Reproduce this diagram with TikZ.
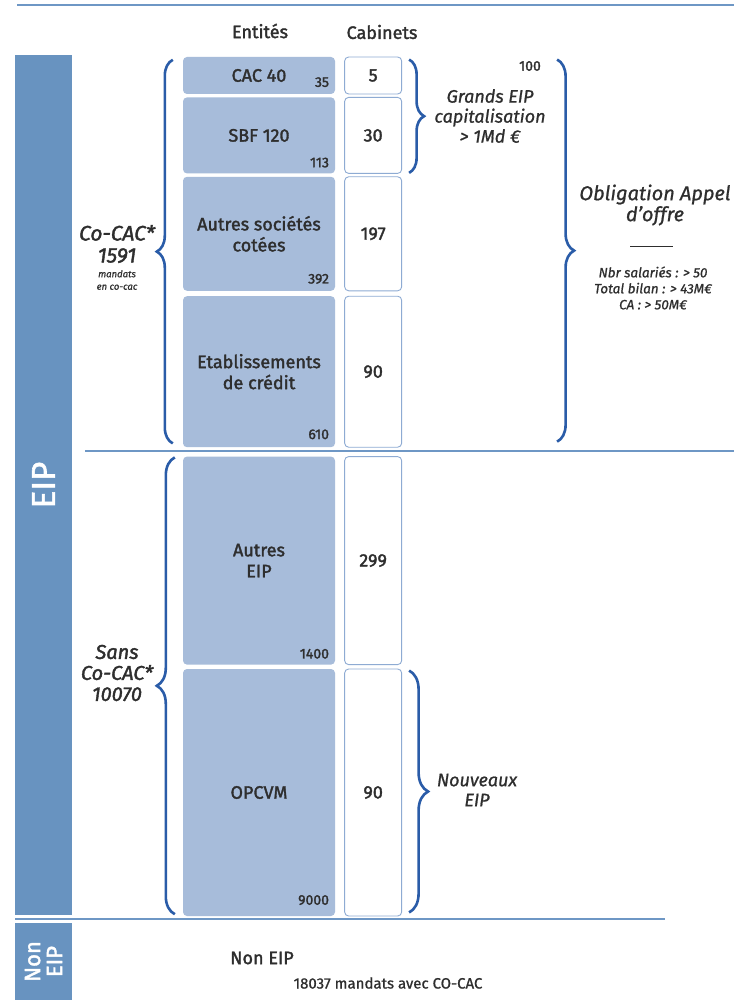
\documentclass[tikz,border=0pt]{standalone}
\usepackage{fontspec}
\setmainfont{Fira Sans}
\newfontfamily\semib{Fira Sans}[FakeBold=1.8]
\newfontfamily\semiit{Fira Sans}[FakeBold=0.9]
\usepackage{xcolor}
\usepackage{tikz}
\usetikzlibrary{positioning, calc, decorations.pathreplacing}

\definecolor{eipblue}{HTML}{6893C0}
\definecolor{entfill}{HTML}{A7BCDA}
\definecolor{cabline}{HTML}{8EABD3}
\definecolor{ruleblue}{HTML}{6E97C5}
\definecolor{braceblue}{HTML}{2A5CA8}
\definecolor{txtgray}{HTML}{2E2E2E}

\begin{document}
\begin{tikzpicture}[
        x=1pt, y=-1pt,
        font=\semib\fontsize{18}{21}\selectfont, text=txtgray,
        ent/.style={fill=entfill, rounded corners=4pt, minimum width=152pt, align=center, inner sep=0pt},
        cab/.style={draw=cabline, line width=0.9pt, fill=white, rounded corners=4pt, minimum width=57pt, inner sep=0pt},
        num/.style={font=\semib\fontsize{14}{16}\selectfont, inner sep=0pt, anchor=south east},
        note/.style={font=\semiit\itshape\fontsize{18}{20}\selectfont, align=center, inner sep=0pt},
        side/.style={fill=eipblue, draw=none},
        rule/.style={draw=ruleblue, line width=1.4pt},
        brc/.style={draw=braceblue, line width=2.6pt, decorate, decoration={brace, amplitude=#1}}
    ]
        \useasboundingbox[fill=white] (0,0) rectangle (734,1000);

        % side bars
        \node[side, minimum width=57pt, minimum height=860pt, inner sep=0pt] (eipbar) at (43.5,485) {};
        \node[side, minimum width=57pt, minimum height=77pt, inner sep=0pt] (noneipbar) at (43.5,961.5) {};
        \node[rotate=90, text=white, font=\semib\fontsize{33}{33}\selectfont] (eiplab) at (eipbar) {EIP};
        \node[rotate=90, text=white, font=\semib\fontsize{22}{22}\selectfont, align=center] (noneiplab) at (noneipbar) {Non\\EIP};

        % rules
        \draw[rule] (17,5) -- (734,5);
        \draw[rule] (85,451) -- (734,451);
        \draw[rule] (15,919) -- (665,919);

        % headings
        \node (hent) at (260,31) {Entités};
        \node (hcab) at (382,32) {Cabinets};

        % entity boxes
        \node[ent, minimum height=37pt] (cac) at (259,75.5) {CAC 40};
        \node[ent, minimum height=76pt, below=3pt of cac] (sbf) {SBF 120};
        \node[ent, minimum height=114pt, below=3pt of sbf] (autres) {Autres sociétés\\cotées};
        \node[ent, minimum height=151pt, below=5pt of autres] (etab) {Etablissements\\de crédit};
        \node[ent, minimum height=208pt, below=9pt of etab] (autreseip) {Autres\\EIP};
        \node[ent, minimum height=247pt, below=4pt of autreseip] (opcvm) {OPCVM};

        \node[num] (n35) at ($(cac.south east)+(-6,-7)$) {35};
        \node[num] (n113) at ($(sbf.south east)+(-6,-6)$) {113};
        \node[num] (n392) at ($(autres.south east)+(-6,-7)$) {392};
        \node[num] (n610) at ($(etab.south east)+(-6,-8)$) {610};
        \node[num] (n1400) at ($(autreseip.south east)+(-6,-6)$) {1400};
        \node[num] (n9000) at ($(opcvm.south east)+(-6,-11)$) {9000};

        % cabinets
        \node[cab, minimum height=37pt, right=9pt of cac] (c5) {5};
        \node[cab, minimum height=76pt, right=9pt of sbf] (c30) {30};
        \node[cab, minimum height=114pt, right=9pt of autres] (c197) {197};
        \node[cab, minimum height=151pt, right=9pt of etab] (c90a) {90};
        \node[cab, minimum height=208pt, right=9pt of autreseip] (c299) {299};
        \node[cab, minimum height=247pt, right=9pt of opcvm] (c90b) {90};

        % braces
        \draw[brc=16pt] ($(etab.south west)+(-10,-4)$) -- ($(cac.north west)+(-10,3)$);
        \draw[brc=18pt] ($(opcvm.south west)+(-8,-2)$) -- ($(autreseip.north west)+(-8,1)$);
        \draw[brc=15pt] ($(c5.north east)+(7,3)$) -- ($(c30.south east)+(7,-1)$);
        \draw[brc=17pt] ($(c5.north east)+(155,3)$) -- ($(c90a.south east)+(155,-6)$);
        \draw[brc=19pt] ($(c90b.north east)+(7,2)$) -- ($(c90b.south east)+(7,-4)$);

        % notes
        \node[num, anchor=center] (n100) at (530,66) {100};
        \node[note] (grands) at (490,116) {Grands EIP\\capitalisation\\> 1Md €};
        \node[note, font=\semiit\itshape\fontsize{20}{21}\selectfont] (oblig) at (655,205) {Obligation Appel\\d’offre};
        \draw[txtgray, line width=0.8pt] (630,246) -- (673,246);
        \node[note, font=\semiit\itshape\fontsize{13.5}{16}\selectfont] (crit) at (653,288) {Nbr salariés : > 50\\Total bilan : > 43M€\\CA : > 50M€};
        \node[note, font=\semib\itshape\fontsize{21}{22}\selectfont] (cocac) at (117,244) {Co-CAC*\\1591};
        \node[note, font=\semiit\itshape\fontsize{9.5}{12.5}\selectfont] (mand) at (117,280) {mandats\\en co-cac};
        \node[note, font=\semib\itshape\fontsize{20}{21}\selectfont] (sans) at (117,673) {Sans\\Co-CAC*\\10070};
        \node[note] (nouv) at (477,790) {Nouveaux\\EIP};

        % non EIP
        \node (noneip) at (262,958) {Non EIP};
        \node[font=\semiit\fontsize{15}{17}\selectfont] (mandco) at (388,983) {18037 mandats avec CO-CAC};
    \end{tikzpicture}
\end{document}
